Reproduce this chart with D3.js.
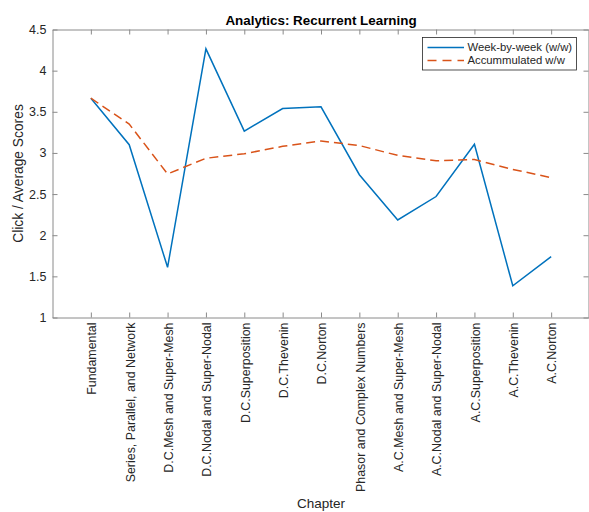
<!DOCTYPE html>
<html>
<head>
<meta charset="utf-8">
<script src="https://cdn.jsdelivr.net/npm/d3@7"></script>
<style>
  html, body { margin: 0; padding: 0; background: #fff; }
  svg { display: block; }
  text { font-family: "Liberation Sans", Arial, Helvetica, sans-serif; }
</style>
</head>
<body>
<svg id="chart" width="589" height="512"></svg>
<script>
const categories = [
  "Fundamental",
  "Series, Parallel, and Network",
  "D.C.Mesh and Super-Mesh",
  "D.C.Nodal and Super-Nodal",
  "D.C.Superposition",
  "D.C.Thevenin",
  "D.C.Norton",
  "Phasor and Complex Numbers",
  "A.C.Mesh and Super-Mesh",
  "A.C.Nodal and Super-Nodal",
  "A.C.Superposition",
  "A.C.Thevenin",
  "A.C.Norton"
];
const weekByWeek = [3.665, 3.10, 1.61, 4.265, 3.265, 3.54, 3.56, 2.735, 2.185, 2.47, 3.105, 1.385, 1.74];
const accumulated = [3.665, 3.35, 2.745, 2.935, 2.99, 3.08, 3.145, 3.09, 2.97, 2.905, 2.92, 2.80, 2.70];
const yTicks = [1, 1.5, 2, 2.5, 3, 3.5, 4, 4.5];
const seriesNames = ["Week-by-week (w/w)", "Accummulated w/w"];

const svg = d3.select("#chart");
const mLeft = 52.5, mRight = 589.5, mTop = 29.5, mBottom = 317.5;
const axisColor = "#262626";
const blue = "#0072BD", orange = "#D95319";

const x = d3.scaleLinear().domain([0, categories.length + 1]).range([mLeft, mRight]);
const y = d3.scaleLinear().domain([1, 4.5]).range([mBottom, mTop]);

// axes
const gx = svg.append("g").attr("transform", `translate(0,${mBottom})`)
  .call(d3.axisBottom(x).tickValues(d3.range(1, categories.length + 1))
    .tickSizeInner(-5).tickSizeOuter(0).tickFormat(""));
const gxTop = svg.append("g").attr("transform", `translate(0,${mTop})`)
  .call(d3.axisTop(x).tickValues(d3.range(1, categories.length + 1))
    .tickSizeInner(-5).tickSizeOuter(0).tickFormat(""));
const gy = svg.append("g").attr("transform", `translate(${mLeft},0)`)
  .call(d3.axisLeft(y).tickValues(yTicks).tickSizeInner(-5).tickSizeOuter(0)
    .tickPadding(6).tickFormat(d => String(d)));
const gyR = svg.append("g").attr("transform", `translate(${mRight - 1},0)`)
  .call(d3.axisRight(y).tickValues(yTicks).tickSizeInner(-5).tickSizeOuter(0).tickFormat(""));

[gx, gxTop, gy, gyR].forEach(g => {
  g.selectAll(".domain").attr("stroke", "#8a8a8a").attr("stroke-width", 1);
  g.selectAll(".tick line").attr("stroke", "#8a8a8a").attr("stroke-width", 1);
});
gy.selectAll(".tick text").attr("fill", axisColor).style("font-size", "12.5px")
  .attr("font-family", "'Liberation Sans', Arial, sans-serif");

// x tick labels rotated
svg.append("g").selectAll("text").data(categories).join("text")
  .attr("transform", (d, i) => `translate(${x(i + 1) + 1},${mBottom + 5}) rotate(-90)`)
  .attr("text-anchor", "end")
  .attr("dy", "0.35em")
  .attr("fill", axisColor)
  .style("font-size", "12.4px")
  .text(d => d);

// lines
const line = d3.line().x((d, i) => x(i + 1)).y(d => y(d));
svg.append("path").datum(weekByWeek).attr("d", line)
  .attr("fill", "none").attr("stroke", blue).attr("stroke-width", 1.5);
svg.append("path").datum(accumulated).attr("d", line)
  .attr("fill", "none").attr("stroke", orange).attr("stroke-width", 1.5)
  .attr("stroke-dasharray", "9,5");

// title
svg.append("text").attr("x", (mLeft + mRight) / 2).attr("y", 24.5)
  .attr("text-anchor", "middle").attr("font-weight", "bold")
  .attr("fill", "#000").style("font-size", "13.4px")
  .text("Analytics: Recurrent Learning");

// axis labels
svg.append("text").attr("x", (mLeft + mRight) / 2).attr("y", 508)
  .attr("text-anchor", "middle").attr("fill", axisColor).style("font-size", "13.5px")
  .text("Chapter");
svg.append("text").attr("transform", `translate(23,${(mTop + mBottom) / 2}) rotate(-90)`)
  .attr("text-anchor", "middle").attr("fill", axisColor).style("font-size", "13.8px")
  .text("Click / Average Scores");

// legend
const lg = svg.append("g");
lg.append("rect").attr("x", 422.5).attr("y", 37.5).attr("width", 154).attr("height", 32.5)
  .attr("fill", "#fff").attr("stroke", "#262626").attr("stroke-width", 0.8);
const colors = [blue, orange];
seriesNames.forEach((name, i) => {
  const yy = 47.5 + i * 13;
  lg.append("line").attr("x1", 427.5).attr("x2", 464).attr("y1", yy).attr("y2", yy)
    .attr("stroke", colors[i]).attr("stroke-width", 1.5)
    .attr("stroke-dasharray", i === 1 ? "9,6" : null);
  lg.append("text").attr("x", 467.5).attr("y", yy).attr("dy", "0.35em")
    .attr("fill", axisColor).style("font-size", "11.3px").text(name);
});
</script>
</body>
</html>
